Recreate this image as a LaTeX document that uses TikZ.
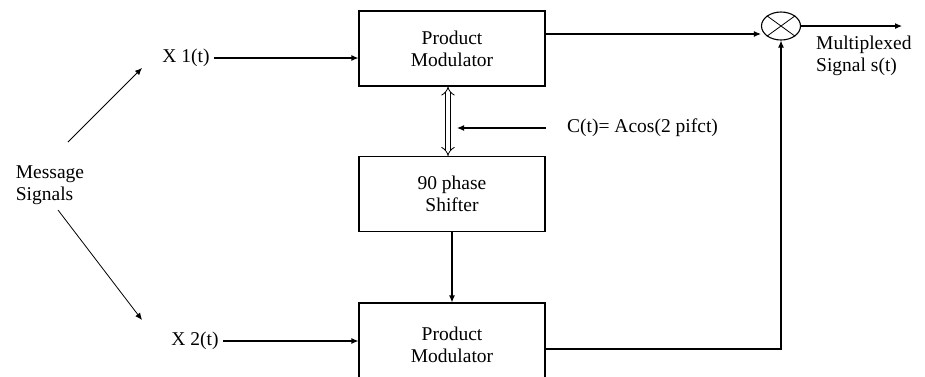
\documentclass[tikz,border=0pt]{standalone}
\usepackage{fontspec}
\setmainfont{Liberation Serif}
\usetikzlibrary{arrows.meta, positioning, calc, shapes.geometric}

\tikzset{
  blk/.style={draw, line width=1.1pt, minimum width=186pt, minimum height=75pt, align=center, inner sep=0pt},
  sig/.style={line width=1.1pt, -{Latex[length=7pt,width=6pt]}},
  lbl/.style={inner sep=1pt, align=left},
}

\begin{document}
\begin{tikzpicture}[x=1pt, y=-1pt, font=\fontsize{19.5}{22}\selectfont]
  \useasboundingbox (0,0) rectangle (925,376);
  % blocks
  \node[blk] (pm1) at (452,48.5) {Product\\Modulator};
  \node[blk] (ps) at (452,194) {90 phase\\Shifter};
  \node[blk, minimum height=84pt] (pm2) at (452,345) {Product\\Modulator};
  % multiplier
  \node[draw, ellipse, line width=1.1pt, minimum width=39pt, minimum height=28pt, inner sep=0pt] (mix) at (781,26) {};
  \draw[line width=0.8pt] (mix.north west) -- (mix.south east) (mix.north east) -- (mix.south west);
  % inputs
  \node[lbl] (msg) at (50,185) {Message\\Signals};
  \node[lbl, inner sep=4pt] (x1) at (186,58) {X 1(t)};
  \node[lbl, inner sep=4pt] (x2) at (195,341) {X 2(t)};
  \coordinate (s1) at (68,142); \coordinate (t1) at (142,68);
  \coordinate (s2) at (58,210); \coordinate (t2) at (142,320);
  \draw[sig, line width=0.8pt] (s1) -- (t1);
  \draw[sig, line width=0.8pt] (s2) -- (t2);
  \draw[sig] (x1.east) -- (x1.east -| pm1.west);
  \draw[sig] (x2.east) -- (x2.east -| pm2.west);
  % carrier
  \node[lbl, anchor=west] (cin) at (566,128) {C(t)= Acos(2 pifct)};
  \coordinate (cend) at (546,128); \coordinate (cjoin) at (457,128);
  \draw[line width=0.8pt, double distance=4pt, {Implies}-{Implies}] ([xshift=-4pt]pm1.south) -- ([xshift=-4pt]ps.north);
  \draw[sig] (cend) -- (cjoin);
  \draw[sig] (ps.south) -- (pm2.north);
  % outputs
  \draw[sig] ([yshift=14.5pt]pm1.east) -- ([yshift=14.5pt]pm1.east -| mix.west);
  \draw[sig] ([yshift=-4pt]pm2.east) -| (mix.south);
  \coordinate (out) at (902,26);
  \draw[sig] (mix.east) -- (out);
  \node[lbl, anchor=west] (mux) at (815,56) {Multiplexed\\Signal s(t)};
\end{tikzpicture}
\end{document}
